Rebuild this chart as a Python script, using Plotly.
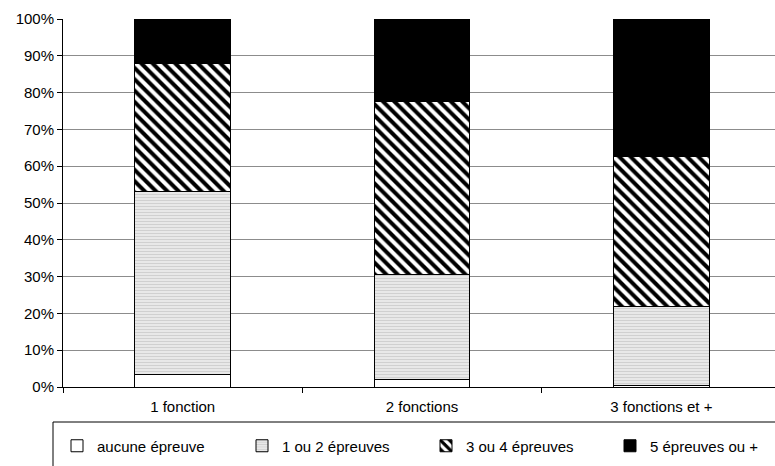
import plotly.graph_objects as go

categories = ["1 fonction", "2 fonctions", "3 fonctions et +"]
series_names = ["aucune épreuve", "1 ou 2 épreuves", "3 ou 4 épreuves", "5 épreuves ou +"]
aucune = [3.3, 2.1, 0.3]
un_deux = [49.7, 28.4, 21.6]
trois_quatre = [34.9, 47.1, 40.8]
cinq_plus = [12.1, 22.4, 37.3]
y_ticks = [0, 10, 20, 30, 40, 50, 60, 70, 80, 90, 100]
y_tick_labels = [f"{v}%" for v in y_ticks]

W, H = 775, 466
L, R, T, B = 63, 0, 19, 79
pw = W - L - R
ph = H - T - B

def px_x(x):
    return (x - L) / pw

def px_y(y):
    return (H - B - y) / ph

FONT = "Liberation Sans, Arial, sans-serif"

styles = [
    dict(color="white", pattern=dict(shape="")),
    dict(color="#ebebeb", pattern=dict(shape="-", fgcolor="#d0d0d0", bgcolor="#ebebeb", fgopacity=1, size=3, solidity=0.4)),
    dict(color="white", pattern=dict(shape="\\", fgcolor="#000000", bgcolor="#ffffff", fgopacity=1, size=8, solidity=0.5)),
    dict(color="black", pattern=dict(shape="")),
]
legend_ids = ["legend", "legend2", "legend3", "legend4"]
legend_left_px = [57, 242, 426, 610]

fig = go.Figure()
for name, vals, st, lid in zip(series_names, [aucune, un_deux, trois_quatre, cinq_plus], styles, legend_ids):
    fig.add_trace(go.Bar(
        x=categories, y=vals, name=name, width=0.4, legend=lid,
        marker=dict(color=st["color"], pattern=st["pattern"], line=dict(color="black", width=1)),
    ))

legend_common = dict(
    orientation="h", xref="container", yref="container",
    xanchor="left", yanchor="middle", y=(H - 446) / H,
    font=dict(family=FONT, size=15, color="black"),
    bgcolor="rgba(0,0,0,0)", borderwidth=0,
)
legend_layout = {}
for lid, lx in zip(legend_ids, legend_left_px):
    legend_layout[lid] = dict(legend_common, x=lx / W)

fig.update_layout(
    barmode="stack",
    width=W, height=H,
    margin=dict(l=L, r=R, t=T, b=B, pad=0, autoexpand=False),
    paper_bgcolor="white", plot_bgcolor="white",
    font=dict(family=FONT, size=15, color="black"),
    showlegend=True,
    hovermode=False,
    xaxis=dict(
        range=[-0.5, 2.475],
        showline=True, linecolor="black", linewidth=1,
        ticks="outside", tickson="boundaries", ticklen=5, tickcolor="black",
        showgrid=False, ticklabelstandoff=6, automargin=False,
    ),
    yaxis=dict(
        range=[0, 100],
        tickvals=y_ticks, ticktext=y_tick_labels,
        showline=True, linecolor="black", linewidth=1,
        ticks="outside", ticklen=5, tickcolor="black",
        showgrid=True, gridcolor="#8c8c8c", gridwidth=1,
        zeroline=False, automargin=False,
    ),
    shapes=[dict(
        type="rect", xref="paper", yref="paper",
        x0=px_x(53), x1=px_x(800), y0=px_y(422), y1=px_y(480),
        line=dict(color="black", width=1), fillcolor="rgba(0,0,0,0)",
    )],
    **legend_layout,
)

fig.write_html(
    "out.html",
    config={"displayModeBar": False},
    post_script="document.body.style.margin='0px';document.body.style.overflow='hidden';",
)
